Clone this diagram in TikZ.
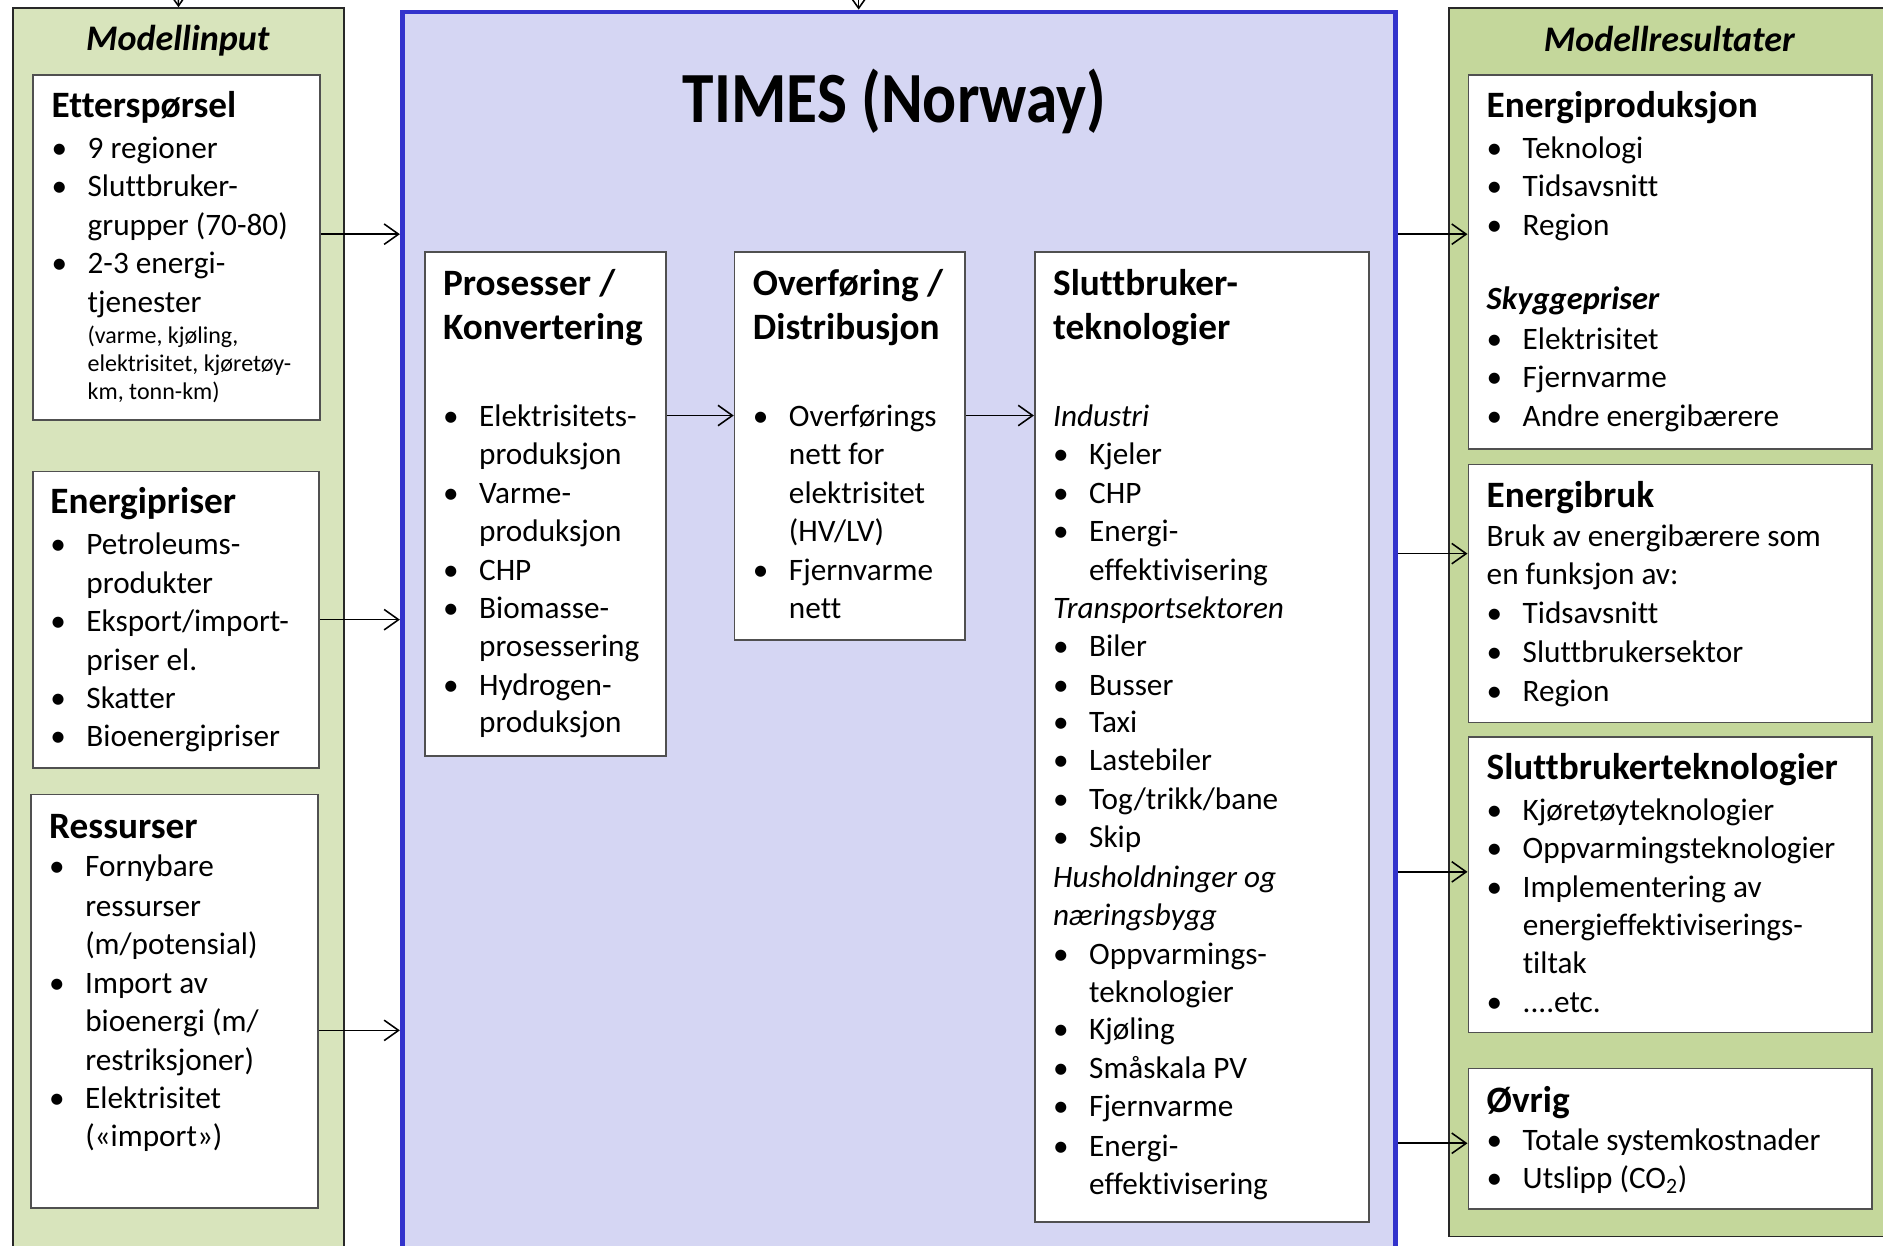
\documentclass[tikz,border=0pt]{standalone}
\usepackage{fontspec}
\setmainfont{Carlito}[Ligatures=NoCommon]
\usetikzlibrary{arrows.meta}
\definecolor{lpfill}{RGB}{216,228,188}
\definecolor{rpfill}{RGB}{196,215,155}
\definecolor{tframe}{RGB}{51,51,204}
\definecolor{tfill}{RGB}{213,214,243}
\definecolor{boxline}{RGB}{80,80,80}
\definecolor{panelline}{RGB}{40,40,40}
\newcommand\Hd{\fontsize{31}{36}\selectfont\bfseries}
\newcommand\Hb{\fontsize{27}{32}\selectfont\bfseries\itshape}
\newcommand\Bu{\makebox[30pt][l]{\textbullet}}
\newcommand\Ct{\hspace*{30pt}}
\newcommand\Sm{\fontsize{20}{24}\selectfont\hspace*{30pt}}
\newcommand\Il{\itshape}
\newcommand\rbox[6]{\node[#6, anchor=north west, minimum width={(#4-#2)*1pt}, minimum height={(#5-#3)*1pt}] (#1) at (#2,#3) {};}
\newcommand\boxlines[3]{\foreach \yy/\tx [count=\idx] in {#3} {\node[txt] (#1-\idx) at (#2,\yy) {\tx};}}
\begin{document}
\begin{tikzpicture}[x=1pt,y=-1pt,
  txt/.style={anchor=base west, inner sep=0pt, outer sep=0pt, font=\fontsize{26}{32}\selectfont},
  panel/.style={draw=panelline, line width=1.3pt, inner sep=0pt},
  whitebox/.style={draw=boxline, fill=white, line width=1.4pt, inner sep=0pt},
  frame/.style={draw=tframe, fill=tfill, line width=4pt, inner sep=0pt},
  arr/.style={-{Straight Barb[length=12pt,width=17pt,line width=1.3pt]}, line width=1.3pt, black},
  ptitle/.style={anchor=base, inner sep=0pt, font=\fontsize{30}{36}\selectfont\bfseries\itshape}]
\clip (0,0) rectangle (1568,1037);
% panels and frame
\rbox{lp}{10}{6}{286}{1100}{panel, fill=lpfill}
\rbox{rp}{1206}{6}{1590}{1029}{panel, fill=rpfill}
\rbox{times}{333}{8}{1160}{1100}{frame}
% white boxes
\rbox{ett}{27}{62}{266}{349}{whitebox}
\rbox{epr}{27}{392}{265}{639}{whitebox}
\rbox{res}{25}{661}{264}{1005}{whitebox}
\rbox{pro}{353}{209}{554}{629}{whitebox}
\rbox{ovf}{611}{209}{803}{532}{whitebox}
\rbox{slt}{861}{209}{1139}{1017}{whitebox}
\rbox{ep}{1222}{62}{1558}{373}{whitebox}
\rbox{eb}{1222}{386}{1558}{601}{whitebox}
\rbox{st}{1222}{613}{1558}{859}{whitebox}
\rbox{ov}{1222}{889}{1558}{1006}{whitebox}
% titles
\node[ptitle] (tin) at (148,42) {Modellinput};
\node[ptitle] (tout) at (1390,43) {Modellresultater};
\node[anchor=base, inner sep=0pt] (ttimes) at (745,102) {\scalebox{0.88}[1]{\fontsize{60}{70}\selectfont\bfseries TIMES (Norway)}};
% connectors
\coordinate (topA) at (148,-40);
\coordinate (topB) at (715,-40);
\draw[arr] (topA) -- (lp.north);
\draw[arr] (topB) -- (times.north -| topB);
\draw[arr] (ett.east |- 0,195) -- (times.west |- 0,195);
\draw[arr] (epr.east |- 0,516) -- (times.west |- 0,516);
\draw[arr] (res.east |- 0,858) -- (times.west |- 0,858);
\draw[arr] (pro.east |- 0,346) -- (ovf.west |- 0,346);
\draw[arr] (ovf.east |- 0,346) -- (slt.west |- 0,346);
\draw[arr] (times.east |- 0,195) -- (ep.west |- 0,195);
\draw[arr] (times.east |- 0,461) -- (eb.west |- 0,461);
\draw[arr] (times.east |- 0,726) -- (st.west |- 0,726);
\draw[arr] (times.east |- 0,952) -- (ov.west |- 0,952);
% texts
\boxlines{ettT}{43}{98/{\Hd Etterspørsel}, 132/{\Bu 9 regioner}, 164/{\Bu Sluttbruker-}, 196/{\Ct grupper (70-80)}, 228/{\Bu 2-3 energi-}, 260/{\Ct tjenester}, 286/{\Sm (varme, kjøling,}, 309/{\Sm elektrisitet, kjøretøy-}, 333/{\Sm km, tonn-km)}}
\boxlines{eprT}{42}{428/{\Hd Energipriser}, 462/{\Bu Petroleums-}, 494/{\Ct produkter}, 526/{\Bu Eksport/import-}, 558/{\Ct priser el.}, 590/{\Bu Skatter}, 622/{\Bu Bioenergipriser}}
\boxlines{resT}{41}{698/{\Hd Ressurser}, 730/{\Bu Fornybare}, 763/{\Ct ressurser}, 795/{\Ct (m/potensial)}, 827/{\Bu Import av}, 859/{\Ct bioenergi (m/}, 891/{\Ct restriksjoner)}, 923/{\Bu Elektrisitet}, 955/{\Ct («import»)}}
\boxlines{proT}{369}{246/{\Hd Prosesser /}, 283/{\Hd Konvertering}, 355/{\Bu Elektrisitets-}, 387/{\Ct produksjon}, 419/{\Bu Varme-}, 451/{\Ct produksjon}, 483/{\Bu CHP}, 515/{\Bu Biomasse-}, 547/{\Ct prosessering}, 579/{\Bu Hydrogen-}, 610/{\Ct produksjon}}
\boxlines{ovfT}{627}{246/{\Hd Overføring /}, 283/{\Hd Distribusjon}, 355/{\Bu Overførings}, 387/{\Ct nett for}, 419/{\Ct elektrisitet}, 451/{\Ct (HV/LV)}, 483/{\Bu Fjernvarme}, 515/{\Ct nett}}
\boxlines{sltT}{877}{246/{\Hd Sluttbruker-}, 283/{\Hd teknologier}, 355/{\Il Industri}, 387/{\Bu Kjeler}, 419/{\Bu CHP}, 451/{\Bu Energi-}, 483/{\Ct effektivisering}, 515/{\Il Transportsektoren}, 547/{\Bu Biler}, 579/{\Bu Busser}, 610/{\Bu Taxi}, 642/{\Bu Lastebiler}, 674/{\Bu Tog/trikk/bane}, 706/{\Bu Skip}, 739/{\Il Husholdninger og}, 771/{\Il næringsbygg}, 803/{\Bu Oppvarmings-}, 835/{\Ct teknologier}, 866/{\Bu Kjøling}, 898/{\Bu Småskala PV}, 930/{\Bu Fjernvarme}, 963/{\Bu Energi-}, 995/{\Ct effektivisering}}
\boxlines{epT}{1238}{98/{\Hd Energiproduksjon}, 132/{\Bu Teknologi}, 164/{\Bu Tidsavsnitt}, 196/{\Bu Region}, 258/{\Hb Skyggepriser}, 291/{\Bu Elektrisitet}, 323/{\Bu Fjernvarme}, 355/{\Bu Andre energibærere}}
\boxlines{ebT}{1238}{423/{\Hd Energibruk}, 455/{Bruk av energibærere som}, 487/{en funksjon av:}, 519/{\Bu Tidsavsnitt}, 552/{\Bu Sluttbrukersektor}, 584/{\Bu Region}}
\boxlines{stT}{1238}{649/{\Hd Sluttbrukerteknologier}, 683/{\Bu Kjøretøyteknologier}, 715/{\Bu Oppvarmingsteknologier}, 747/{\Bu Implementering av}, 779/{\Ct energieffektiviserings-}, 811/{\Ct tiltak}, 843/{\Bu ....etc.}}
\boxlines{ovT}{1238}{926/{\Hd Øvrig}, 958/{\Bu Totale systemkostnader}, 990/{\Bu Utslipp (CO\textsubscript{2})}}
\end{tikzpicture}
\end{document}
